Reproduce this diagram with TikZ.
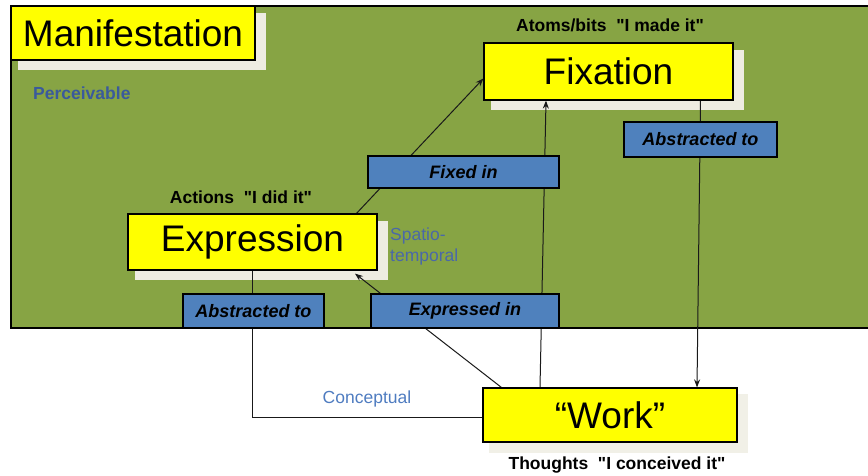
\documentclass[tikz,border=0pt]{standalone}
\usepackage{fontspec}
\setmainfont{Liberation Sans}
\usetikzlibrary{arrows.meta,calc}

\definecolor{field}{HTML}{87A444}
\definecolor{stageyellow}{HTML}{FFFF00}
\definecolor{linkblue}{HTML}{4F81BD}
\definecolor{shadegray}{HTML}{EEECE1}
\definecolor{notedark}{HTML}{3A5A9C}
\definecolor{notemid}{HTML}{4A68A8}
\definecolor{notelight}{HTML}{4F7CC0}

\pgfdeclarelayer{fieldlayer}
\pgfdeclarelayer{shadelayer}
\pgfdeclarelayer{wirelayer}
\pgfsetlayers{fieldlayer,shadelayer,wirelayer,main}

\newcommand{\dq}{\textquotedbl}

\begin{document}
\begin{tikzpicture}[x=1pt,y=-1pt,
  stage/.style={draw=black,line width=1.2pt,fill=stageyellow,inner sep=0pt,
    font=\fontsize{37}{40}\selectfont},
  relation/.style={draw=black,line width=1.2pt,fill=linkblue,inner sep=0pt,
    font=\fontsize{18}{20}\selectfont\bfseries\itshape},
  caption/.style={inner sep=0pt,font=\fontsize{17.5}{20}\selectfont\bfseries},
  note/.style={inner sep=0pt,font=\fontsize{17.5}{21}\selectfont},
  wire/.style={draw=black!90,line width=1pt},
  arrowwire/.style={wire,-{Stealth[length=8pt,width=6pt]}},
]
\useasboundingbox (0,0) rectangle (868,475);

% stage boxes
\node[stage,minimum width=244pt,minimum height=54pt] (manif) at (133,33) {Manifestation};
\node[stage,minimum width=249pt,minimum height=57pt] (fix) at (608.5,71.5) {Fixation};
\node[stage,minimum width=249pt,minimum height=56pt] (expr) at (252.5,242) {Expression};
\node[stage,minimum width=254pt,minimum height=54pt] (work) at (610,415) {“Work”};

% relation labels
\node[relation,minimum width=191pt,minimum height=32pt] (fixedin) at (463.5,172) {Fixed in};
\node[relation,minimum width=188pt,minimum height=34pt] (expressedin) at (465,311) {Expressed in};
\node[relation,minimum width=141pt,minimum height=34pt] (abstrL) at (253.5,311) {Abstracted to};
\node[relation,minimum width=153pt,minimum height=35pt] (abstrR) at (700.5,139.5) {Abstracted to};

% captions and notes
\node[caption] (atoms) at (610,25) {Atoms/bits\ \ \dq I made it\dq};
\node[caption] (actions) at (241,197) {Actions\ \ \dq I did it\dq};
\node[caption] (thoughts) at (617,465) {Thoughts\ \ \dq I conceived it\dq};
\node[caption,text=notedark,anchor=west] (perc) at (33,93) {Perceivable};
\node[note,text=notemid,align=left,anchor=north west] (spatio) at (390,228) {Spatio-\\temporal};
\node[note,text=notelight] (concept) at (367,399) {Conceptual};

% perceivable field
\begin{pgfonlayer}{fieldlayer}
  \fill[field] (11,6) rectangle (880,328);
  \draw[line width=1.5pt] (880,6) -- (11,6) -- (11,328) -- (880,328);
\end{pgfonlayer}

% box shadows
\begin{pgfonlayer}{shadelayer}
  \foreach \n in {manif,fix,expr}
    \fill[shadegray] ([shift={(8pt,-9pt)}]\n.south west) rectangle ([shift={(10pt,-8pt)}]\n.north east);
  \fill[shadegray!80] ([shift={(7pt,-10pt)}]work.south west) rectangle ([shift={(10pt,-7pt)}]work.north east);
\end{pgfonlayer}

% connectors
\begin{pgfonlayer}{wirelayer}
  \draw[arrowwire] ([xshift=104pt]expr.north) -- ([yshift=-7pt]fix.west);
  \draw[arrowwire] ([xshift=-70pt]work.north) -- ([xshift=-62.5pt]fix.south);
  \draw[arrowwire] ([xshift=19pt]work.north west) -- ([xshift=102.5pt,yshift=-3pt]expr.south);
  \draw[arrowwire] ([xshift=92pt]fix.south) -- ([xshift=87pt]work.north);
  \draw[wire] (expr.south) |- ([yshift=-2pt]work.west);
\end{pgfonlayer}
\end{tikzpicture}
\end{document}
